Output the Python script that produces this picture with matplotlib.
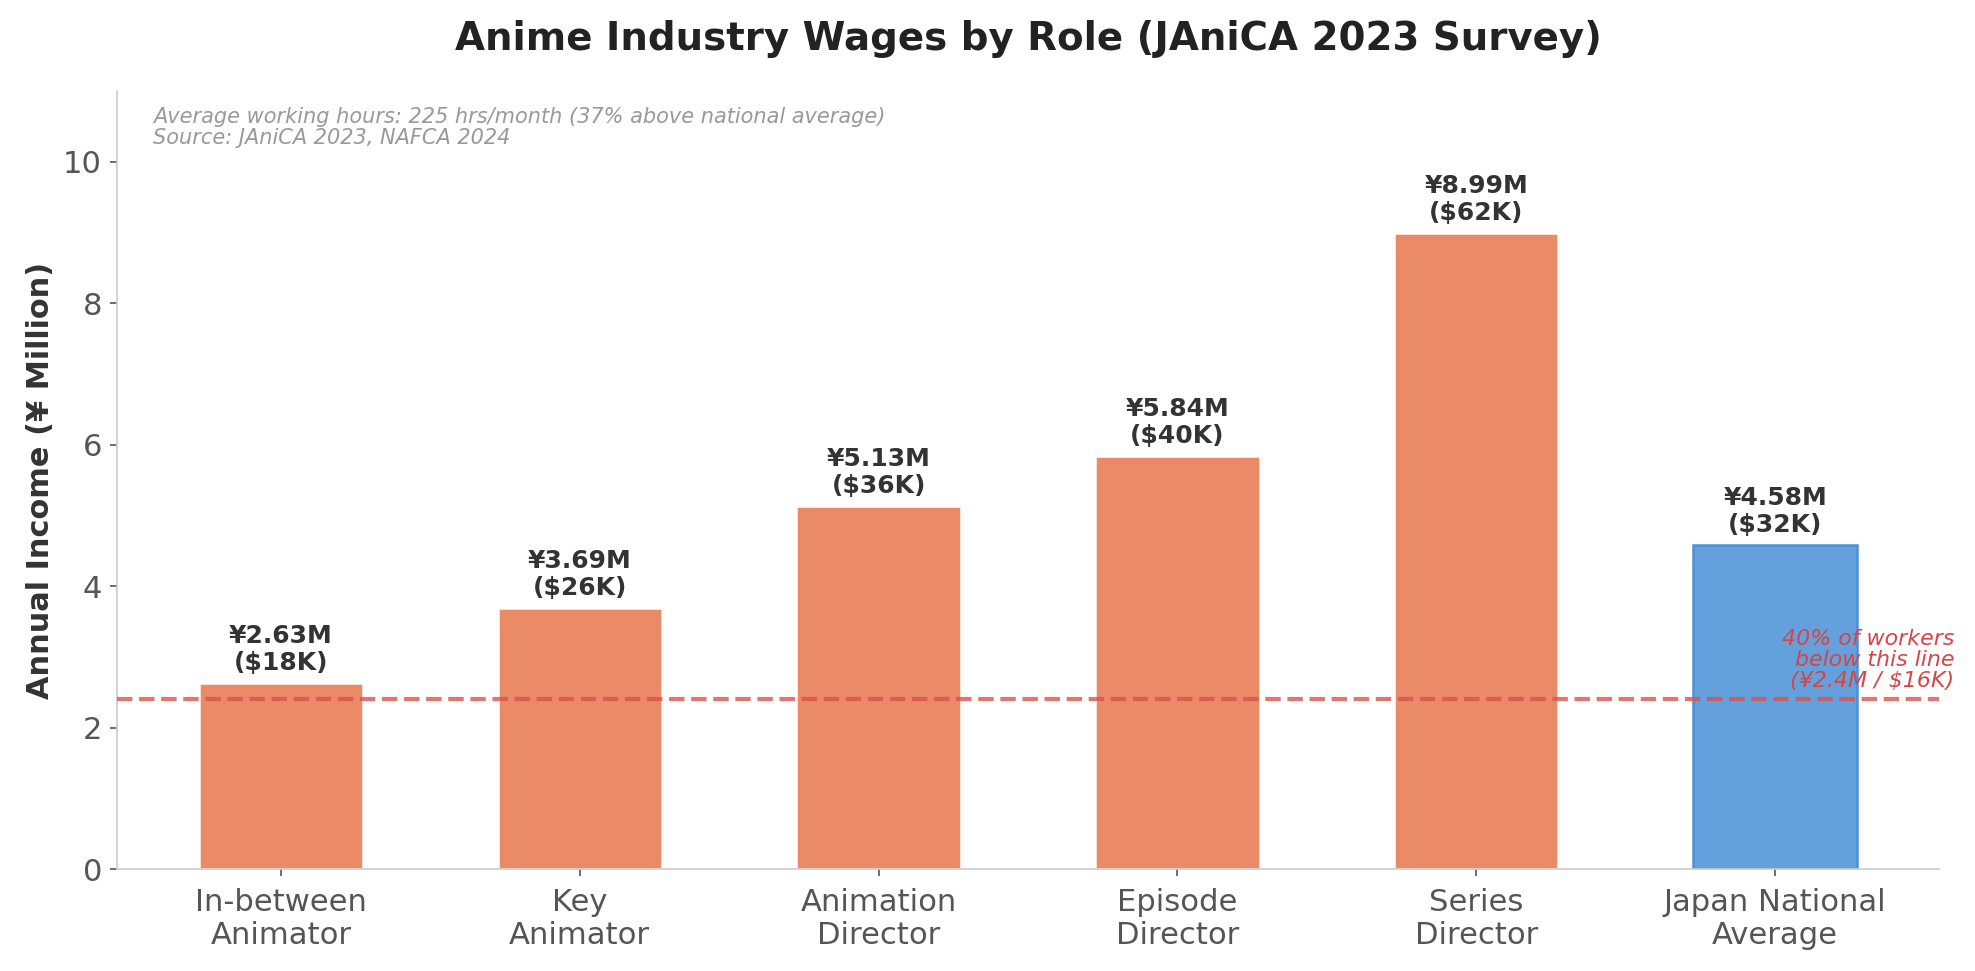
import numpy as np
import matplotlib
matplotlib.use('Agg')
from matplotlib import pyplot as plt

roles = ['In-between\nAnimator', 'Key\nAnimator', 'Animation\nDirector',
         'Episode\nDirector', 'Series\nDirector', 'Japan National\nAverage']
income_jpy = [2.63, 3.69, 5.13, 5.84, 8.99, 4.58]   # million yen
income_usd = [18, 26, 36, 40, 62, 32]              # thousand USD
poverty_line = 2.4

orange = '#EA8A66'
blue = '#63A0DC'
colors = [orange] * 5 + [blue]
edges = ['white'] * 5 + ['#4A90D9']

fig, ax = plt.subplots(figsize=(1975 / 150, 971 / 150), dpi=150)
x = np.arange(len(roles))
ax.bar(x, income_jpy, width=0.55, color=colors, edgecolor=edges, linewidth=1.2, zorder=2)

for xi, v, u in zip(x, income_jpy, income_usd):
    ax.text(xi, v + 0.12, f'¥{v:.2f}M\n(${u}K)', ha='center', va='bottom',
            fontsize=12, fontweight='bold', color='#333333', linespacing=1.15)

ax.axhline(poverty_line, color='#D9534F', linestyle='--', linewidth=2, alpha=0.8, zorder=3)
ax.text(5.6, poverty_line + 0.12, '40% of workers\nbelow this line\n(¥2.4M / $16K)',
        ha='right', va='bottom', fontsize=10.6, style='italic', color='#D64545',
        linespacing=1.05, zorder=4)

ax.text(0.02, 0.98, 'Average working hours: 225 hrs/month (37% above national average)\n'
        'Source: JAniCA 2023, NAFCA 2024', transform=ax.transAxes,
        ha='left', va='top', fontsize=10, style='italic', color='#999999', linespacing=1.05)

ax.set_xticks(x)
ax.set_xticklabels(roles, fontsize=14.7, color='#555555')
ax.tick_params(axis='y', labelsize=14.7, labelcolor='#555555', color='#555555')
ax.tick_params(axis='x', color='#555555', pad=5.5)
ax.set_xlim(-0.55, 5.55)
ax.set_ylim(0, 11)
ax.set_yticks([0, 2, 4, 6, 8, 10])
ax.set_ylabel('Annual Income (¥ Million)', fontsize=14.6, fontweight='bold', color='#333333')
ax.set_title('Anime Industry Wages by Role (JAniCA 2023 Survey)', fontsize=18.6,
             fontweight='bold', color='#222222', pad=20)

for s in ['top', 'right']:
    ax.spines[s].set_visible(False)
for s in ['left', 'bottom']:
    ax.spines[s].set_color('#CCCCCC')

fig.subplots_adjust(left=0.059, right=0.982, top=0.906, bottom=0.105)
fig.savefig('out.png', dpi=150)
